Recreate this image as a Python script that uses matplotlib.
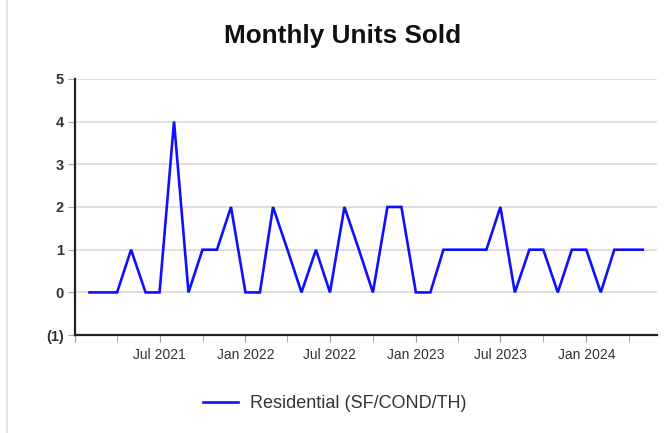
import numpy as np
import matplotlib
matplotlib.use("Agg")
import matplotlib.pyplot as plt
import matplotlib.dates as mdates
import matplotlib.ticker as mticker
from matplotlib.lines import Line2D

plt.rcParams['font.family'] = ['Liberation Sans', 'DejaVu Sans']

# data
months = np.arange(np.datetime64('2021-02'), np.datetime64('2024-06'), dtype='datetime64[M]')
units = [0, 0, 0, 1, 0, 0, 4, 0, 1, 1, 2,
         0, 0, 2, 1, 0, 1, 0, 2, 1, 0, 2, 2,
         0, 0, 1, 1, 1, 1, 2, 0, 1, 1, 0, 1,
         1, 0, 1, 1, 1]
series_name = "Residential (SF/COND/TH)"
title = "Monthly Units Sold"

dates = months.astype('datetime64[D]').astype('O')
x0 = np.datetime64('2021-01-01').astype('O')
x1 = np.datetime64('2024-06-01').astype('O')

fig = plt.figure(figsize=(6.70, 4.33), dpi=100)
ax = fig.add_axes([0.112, 0.226, 0.869, 0.592])

line, = ax.plot(dates, units, color='#1010ff', lw=1.9, label=series_name,
                solid_joinstyle='miter', zorder=3)

ax.set_ylim(-1, 5)
ax.set_xlim(x0, x1)
ax.yaxis.set_major_locator(mticker.MultipleLocator(1))
ax.yaxis.set_major_formatter(mticker.FuncFormatter(
    lambda v, p: "({:d})".format(int(-v)) if v < 0 else "{:d}".format(int(v))))

# ticks every quarter, labels only Jan/Jul (none at the left edge)
ax.xaxis.set_major_locator(mdates.MonthLocator(bymonth=[1, 7]))
ax.xaxis.set_major_formatter(mticker.FuncFormatter(
    lambda v, p: "" if v <= mdates.date2num(x0) + 1 else mdates.num2date(v).strftime('%b %Y')))
ax.xaxis.set_minor_locator(mdates.MonthLocator(bymonth=[4, 10]))

ax.grid(axis='y', color='#d9d9d9', lw=1.2, zorder=0)
for s in ['top', 'right']:
    ax.spines[s].set_visible(False)
for s in ['left', 'bottom']:
    ax.spines[s].set_color('#222222')
    ax.spines[s].set_linewidth(1.6)

ax.tick_params(axis='y', length=5, color='#aaaaaa', labelsize=10.5, labelcolor='#333333', pad=3)
ax.tick_params(axis='x', which='both', length=5, color='#999999', labelsize=10,
               labelcolor='#333333', pad=4)
for lab in ax.get_yticklabels():
    lab.set_fontweight('bold')

fig.text(0.511, 0.916, title, fontsize=18.8, fontweight='bold', color='#111111',
         ha='center', va='center')

fig.legend(handles=[line], loc='center', bbox_to_anchor=(0.5, 0.068), frameon=False,
           fontsize=13, handlelength=1.9, handletextpad=0.7, labelcolor='#333333')

fig.add_artist(Line2D([7/670, 7/670], [0, 1], color='#dddddd', lw=1.2))

fig.savefig('out.png', dpi=100)
